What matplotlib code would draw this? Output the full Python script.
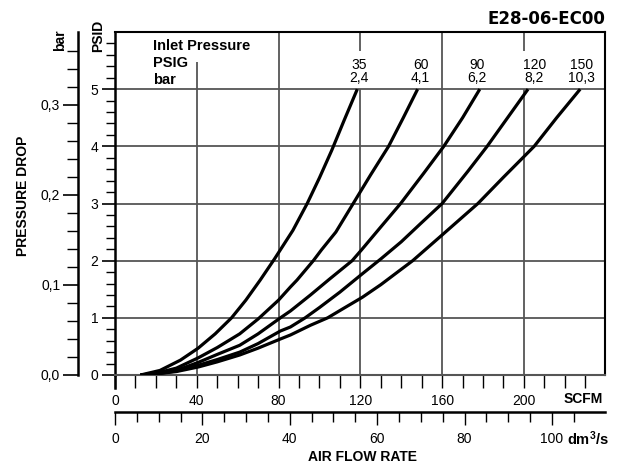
import matplotlib
matplotlib.use('Agg')
import matplotlib.pyplot as plt
from matplotlib.ticker import FixedLocator, FuncFormatter
from matplotlib.lines import Line2D

plt.rcParams['font.family'] = ['Liberation Sans', 'DejaVu Sans']
plt.rcParams['mathtext.fontset'] = 'custom'
plt.rcParams['mathtext.rm'] = 'Liberation Sans'
plt.rcParams['mathtext.bf'] = 'Liberation Sans:bold'

# ---------------- data (SCFM vs PSID) ----------------
scfm_35 = [12.5, 22, 32, 40.7, 49, 57, 64, 71, 78, 87, 94, 100, 106, 112, 118.5]
psid_35 = [0, 0.08, 0.26, 0.47, 0.72, 1.0, 1.31, 1.66, 2.03, 2.53, 3.0, 3.45, 3.93, 4.45, 5.0]

scfm_60 = [12.5, 20, 30, 40.7, 50, 61, 70, 80, 85.8, 89, 97, 101, 108, 116.5, 125, 133.8, 141, 148]
psid_60 = [0, 0.03, 0.12, 0.30, 0.48, 0.72, 0.98, 1.31, 1.54, 1.66, 2.0, 2.19, 2.5, 3.0, 3.5, 4.0, 4.5, 5.0]

scfm_90 = [12.5, 20, 30, 40.7, 50, 61, 70, 80.9, 85.8, 95.6, 105, 116, 120.6, 130, 139.7, 151, 160.8, 170, 178.4]
psid_90 = [0, 0.02, 0.08, 0.22, 0.36, 0.52, 0.72, 1.0, 1.12, 1.4, 1.68, 2.0, 2.19, 2.59, 3.0, 3.53, 4.0, 4.5, 5.0]

scfm_120 = [12.5, 20, 30, 40.7, 50, 61, 70, 80.9, 85.8, 93, 100, 110, 120.6, 130, 140, 149.5, 160, 172.5, 182, 192, 202]
psid_120 = [0, 0.02, 0.07, 0.17, 0.27, 0.40, 0.55, 0.77, 0.84, 1.0, 1.18, 1.45, 1.76, 2.03, 2.33, 2.65, 3.0, 3.56, 4.0, 4.5, 5.0]

scfm_150 = [12.5, 20, 30, 40.7, 50, 61, 70, 80.9, 85.8, 95.6, 104, 112, 121, 130, 145.6, 160, 177.5, 190, 205, 216, 227.5]
psid_150 = [0, 0.02, 0.06, 0.14, 0.23, 0.35, 0.47, 0.63, 0.70, 0.87, 1.0, 1.17, 1.36, 1.58, 2.0, 2.45, 3.0, 3.46, 4.0, 4.5, 5.0]

inlet_psig = ['35', '60', '90', '120', '150']
inlet_bar = ['2,4', '4,1', '6,2', '8,2', '10,3']
label_x = [119.5, 149.5, 177, 205, 228]

scfm_major = [0, 40, 80, 120, 160, 200]
scfm_minor = list(range(10, 240, 10))
dm3_major = [0, 20, 40, 60, 80, 100]
dm3_minor = list(range(5, 110, 5))
psid_major = [0, 1, 2, 3, 4, 5]
psid_minor = [i * 0.2 for i in range(1, 30)]
bar_major = [0.0, 0.1, 0.2, 0.3]
bar_minor = [i * 0.02 for i in range(1, 19)]

# ---------------- layout ----------------
W, H = 631, 466
fig = plt.figure(figsize=(W / 100, H / 100), dpi=100)


def fx(px):
    return px / W


def fy(py):
    return 1 - py / H


ax_left, ax_right, ax_top, ax_bot = 115, 604.5, 32, 375
ax = fig.add_axes([fx(ax_left), fy(ax_bot), (ax_right - ax_left) / W, (ax_bot - ax_top) / H])
ax.set_xlim(0, 239.4)
ax.set_ylim(0, 6)

GRID_C = '#555555'
GRID_LW = 1.3

for v in psid_major[1:]:
    ax.axhline(v, color=GRID_C, lw=GRID_LW, zorder=1)
# vertical grid lines (with gaps for the labels)
ax.vlines([40], 0, 5.47, color=GRID_C, lw=GRID_LW, zorder=1)
ax.vlines([80, 160], 0, 6, color=GRID_C, lw=GRID_LW, zorder=1)
ax.vlines([120, 200], 0, 5.0, color=GRID_C, lw=GRID_LW, zorder=1)
ax.vlines([120, 200], 5.66, 6, color=GRID_C, lw=GRID_LW, zorder=1)

for xs, ys in [(scfm_35, psid_35), (scfm_60, psid_60), (scfm_90, psid_90),
               (scfm_120, psid_120), (scfm_150, psid_150)]:
    ax.plot(xs, ys, color='black', lw=2.3, solid_joinstyle='round',
            solid_capstyle='butt', zorder=3)

for x, p, b in zip(label_x, inlet_psig, inlet_bar):
    ax.text(x, 5.43, p, ha='center', va='center', fontsize=10)
    ax.text(x, 5.19, b, ha='center', va='center', fontsize=10)

ax.text(18.6, 5.75, 'Inlet Pressure', ha='left', va='center', fontsize=10.5, fontweight='bold')
ax.text(18.6, 5.46, 'PSIG', ha='left', va='center', fontsize=10.5, fontweight='bold')
ax.text(18.6, 5.16, 'bar', ha='left', va='center', fontsize=10.5, fontweight='bold')

# spines
for s in ['top', 'right', 'left']:
    ax.spines[s].set_color('black')
ax.spines['left'].set_linewidth(1.8)
ax.spines['top'].set_linewidth(1.5)
ax.spines['right'].set_linewidth(1.5)
ax.spines['bottom'].set_color(GRID_C)
ax.spines['bottom'].set_linewidth(1.5)
ax.add_line(Line2D([0, 0], [0, -13 / 343], transform=ax.transAxes, color='black',
                   lw=1.8, clip_on=False))

# x ticks (SCFM)
ax.xaxis.set_major_locator(FixedLocator(scfm_major))
ax.xaxis.set_minor_locator(FixedLocator(scfm_minor))
ax.tick_params(axis='x', which='both', direction='out', length=9.4, width=1.0,
               color='black', labelsize=10, pad=4)
# y ticks (PSID)
ax.yaxis.set_major_locator(FixedLocator(psid_major))
ax.yaxis.set_minor_locator(FixedLocator(psid_minor))
ax.tick_params(axis='y', which='major', direction='out', length=9.4, width=1.2,
               labelsize=10, pad=2.5)
ax.tick_params(axis='y', which='minor', direction='out', length=6.5, width=1.0)

# secondary x axis (dm3/s)
K = 0.468
sec = ax.secondary_xaxis(-(412 - 375) / 343, functions=(lambda s: s * K, lambda d: d / K))
sec.spines['bottom'].set_linewidth(1.8)
sec.xaxis.set_major_locator(FixedLocator(dm3_major))
sec.xaxis.set_minor_locator(FixedLocator(dm3_minor))
sec.tick_params(axis='x', which='major', direction='out', length=9.4, width=1.0,
                labelsize=10, pad=5)
sec.tick_params(axis='x', which='minor', direction='out', length=7.2, width=1.0)

# bar axis
bax = fig.add_axes([fx(78), fy(ax_bot), 0.0001, (ax_bot - ax_top) / H])
bax.set_ylim(0, 0.381)
bax.patch.set_visible(False)
for s in ['top', 'right', 'bottom']:
    bax.spines[s].set_visible(False)
bax.spines['left'].set_linewidth(1.8)
bax.set_xticks([])
bax.yaxis.set_major_locator(FixedLocator(bar_major))
bax.yaxis.set_minor_locator(FixedLocator(bar_minor))
bax.yaxis.set_major_formatter(FuncFormatter(lambda v, p: f'{v:.1f}'.replace('.', ',')))
bax.tick_params(axis='y', which='major', direction='out', length=10.8, width=1.2,
                labelsize=10, pad=2)
bax.tick_params(axis='y', which='minor', direction='out', length=7.9, width=1.0)

# texts
fig.text(fx(605), fy(18.5), 'E28-06-EC00', ha='right', va='center', fontsize=12,
         fontweight='bold', family='DejaVu Sans')
fig.text(fx(98), fy(36), 'PSID', rotation=90, ha='center', va='center', fontsize=10,
         fontweight='bold')
fig.text(fx(60), fy(40), 'bar', rotation=90, ha='center', va='center', fontsize=10,
         fontweight='bold')
fig.text(fx(23), fy(196), 'PRESSURE DROP', rotation=90, ha='center', va='center',
         fontsize=10, fontweight='bold')
fig.text(fx(583), fy(399), 'SCFM', ha='center', va='center', fontsize=10, fontweight='bold')
fig.text(fx(567), fy(445), r'$\mathbf{dm^{3}/s}$', ha='left', va='baseline', fontsize=10.5)
fig.text(fx(363), fy(457), 'AIR FLOW RATE', ha='center', va='center', fontsize=10,
         fontweight='bold')

fig.savefig('out.png', dpi=100)
